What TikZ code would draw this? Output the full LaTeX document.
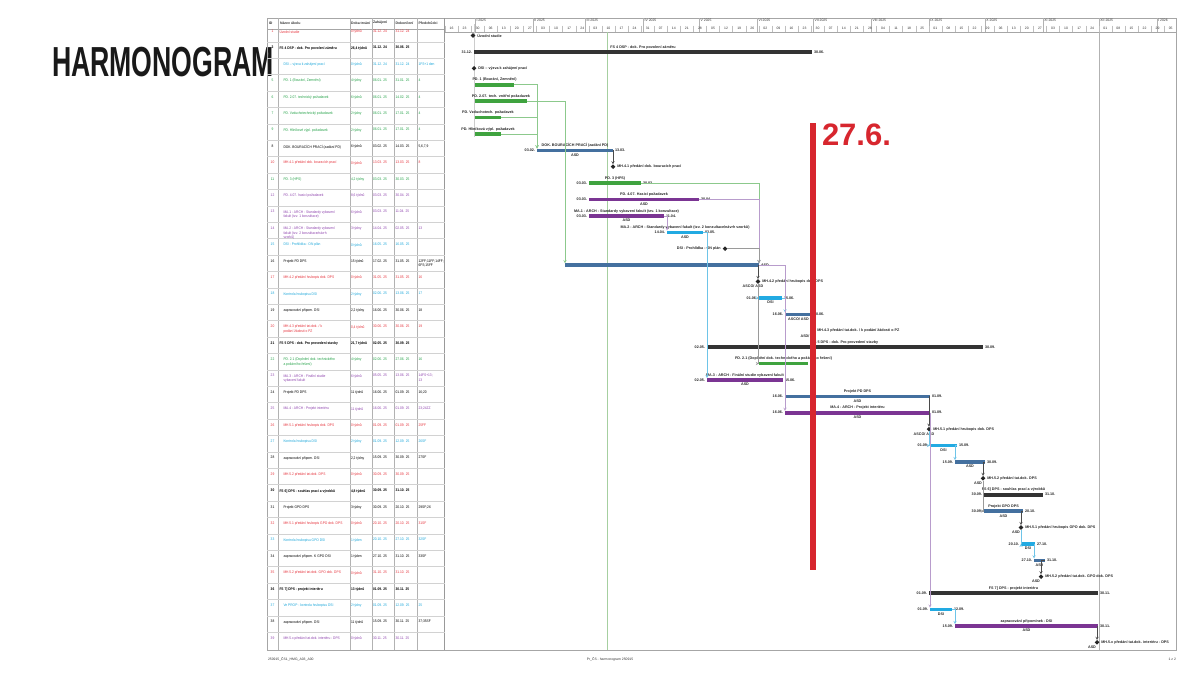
\documentclass[tikz,border=0pt]{standalone}
\usepackage{fontspec}
\setmainfont{Liberation Sans}
\usetikzlibrary{arrows}
\usetikzlibrary{shapes.geometric}
\usetikzlibrary{positioning}

\begin{document}
\begin{tikzpicture}[x=1pt,y=-1pt,
    every node/.style={inner sep=0pt, outer sep=0pt},
    zelle/.style={anchor=north west, align=left, text=#1, xscale=0.88, font=\fontsize{3.7}{4.5}\selectfont},
    kopf/.style={font=\fontsize{3.4}{4}\selectfont, text=black!80},
    balken/.style={rectangle, fill=#1, minimum height=3.6pt, anchor=west},
    meilenstein/.style={diamond, fill=black!85, minimum size=4.6pt},
    klein/.style={font=\fontsize{3.7}{4.2}\selectfont\bfseries, text=black!85},
    verb/.style={line width=0.45pt, -stealth}]
    \definecolor{trot}{HTML}{E5323B}
    \definecolor{tcyan}{HTML}{1BA6D9}
    \definecolor{tgruen}{HTML}{22A046}
    \definecolor{tviolett}{HTML}{8E44AD}
    \definecolor{gruen}{HTML}{3FA33F}
    \definecolor{violett}{HTML}{7B3593}
    \definecolor{blau}{HTML}{22AAE2}
    \definecolor{stahl}{HTML}{44709F}
    \definecolor{sum}{HTML}{333333}
    \definecolor{lgruen}{HTML}{8CC98C}
    \definecolor{lviolett}{HTML}{B89CCC}
    \definecolor{lblau}{HTML}{6EC4E8}
    \definecolor{lgrau}{HTML}{9A9A9A}
    \definecolor{dunkel}{HTML}{4A4A4A}
    \definecolor{stand}{HTML}{A6CFA0}
    \definecolor{rotlinie}{HTML}{D7262E}
    \useasboundingbox (0,0) rectangle (1200,675);
    \node[font=\fontsize{42}{42}\selectfont\bfseries, text=black!90, xscale=0.635, anchor=west] (titel) at (52,62) {HARMONOGRAM};
    \draw[gray!70] (267,18) rectangle (1176,650);  %Rahmen
    \draw[gray!70] (267,29) -- (444.5,29);  %Tabellenkopf
    \draw[gray!70] (444.5,32) -- (1176,32);  %Zeitachse
    \draw[gray!80] (444.5,18) -- (444.5,650);  %Trennlinie
    \draw[gray!60] (1099,32) -- (1099,650);  %Seitengrenze
    \draw[stand, line width=0.6pt] (607,32) -- (607,650);  %Statusdatum
    \draw[gray!40, line width=1.8pt] (474.5,24) -- (474.5,137);  %Projektbeginn
    \foreach \x in {278,350,372,394.5,417.5}  %Spalten
      \draw[gray!60] (\x,18) -- (\x,650);
    \foreach \j in {0,...,36}  %Zeilen
      \draw[gray!35] (267,{41.7+16.4*\j}) -- (444.5,{41.7+16.4*\j});
    \foreach \x/\kopftext [count=\i] in {269/ID, 280/Název úkolu, 351/Doba trvání, 373/Zahájení, 395.5/Dokončení, 418.5/Předchůdci}
      \node[kopf, anchor=west, font=\fontsize{3.5}{4}\selectfont\bfseries] (kopf\i) at (\x,23) {\kopftext};  %Spaltenkoepfe
    \foreach \tg/\monat [count=\i] in {0/I 2025, 31/II 2025, 59/III 2025, 90/IV 2025, 120/V 2025, 151/VI 2025, 181/VII 2025, 212/VIII 2025, 243/IX 2025, 273/X 2025, 304/XI 2025, 334/XII 2025, 365/I 2026}
    {
      \draw[gray!60] ({475+1.868*\tg},18) -- ({475+1.868*\tg},32);  %Monatsgrenze
      \node[kopf, anchor=north west] (monat\i) at ({476.5+1.868*\tg},19.5) {\monat};
    }
    \foreach \wtag [count=\i from 0] in {16,23,30,06,13,20,27,03,10,17,24,03,10,17,24,31,07,14,21,28,05,12,19,26,02,09,16,23,30,07,14,21,28,04,11,18,25,01,08,15,22,29,06,13,20,27,03,10,17,24,01,08,15,22,29,05}
    {
      \draw[gray!50] ({445+13.076*\i},25.5) -- ({445+13.076*\i},32);  %Wochen
      \node[kopf] (woche\i) at ({451.5+13.076*\i},28.8) {\wtag};
    }
    \foreach \nr/\nm/\dauer/\anf/\ende/\vorg/\fb/\fw/\ein [count=\k] in
    {
      1/Úvodní studie/0 týdnů/31.12. 24/31.12. 24//trot/\mdseries/0,
      2/FS 4 DSP - dok. Pro povolení záměru/{26,4 týdnů}/31.12. 24/30.06. 25//black/\bfseries/0,
      {}/DSI -- výzva k zahájení prací/0 týdnů/31.12. 24/31.12. 24/1FS+1 den/tcyan/\mdseries/4,
      5/{PD. 1 (Bourání, Zemnění)}/4 týdny/06.01. 25/31.01. 25/4/tgruen/\mdseries/4,
      6/PD. 2.07. technický požadavek/6 týdnů/06.01. 25/14.02. 25/4/tgruen/\mdseries/4,
      7/PD. Vzduchotechnický požadavek/2 týdny/06.01. 25/17.01. 25/4/tgruen/\mdseries/4,
      9/PD. Hliníkové výpl. požadavek/2 týdny/06.01. 25/17.01. 25/4/tgruen/\mdseries/4,
      8/DOK. BOURACÍCH PRACÍ (zadání PD)/6 týdnů/03.02. 25/14.03. 25/{5,6,7,9}/black/\mdseries/4,
      10/MH.4.1 předání dok. bouracích prací/0 týdnů/13.03. 25/13.03. 25/8/trot/\mdseries/4,
      11/PD. 3 (HPS)/{4,2 týdny}/03.03. 25/30.03. 25//tgruen/\mdseries/4,
      12/PD. 4.07. hasicí požadavek/{8,6 týdnů}/03.03. 25/30.04. 25//tviolett/\mdseries/4,
      13/{MA.1 - ARCH - Standardy vybavení\\fakult (tzv. 1 konzultace)}/6 týdnů/03.03. 25/11.04. 25//tviolett/\mdseries/4,
      14/{MA.2 - ARCH - Standardy vybavení\\fakult (tzv. 2 konzultace/návrh\\vzorků)}/3 týdny/14.04. 25/02.05. 25/13/tviolett/\mdseries/4,
      15/DSI - Prohlídka - ON plán/0 týdnů/16.05. 25/16.05. 25//tcyan/\mdseries/4,
      16/Projekt PD DPS/15 týdnů/17.02. 25/31.05. 25/{12FF;11FF;14FF;\\6FS;15FF}/black/\mdseries/4,
      17/MH.4.2 předání hrubopis dok. DPS/0 týdnů/31.05. 25/31.05. 25/16/trot/\mdseries/4,
      18/Kontrola hrubopisu DSI/2 týdny/02.06. 25/13.06. 25/17/tcyan/\mdseries/4,
      19/zapracování připom. DSI/{2,2 týdny}/16.06. 25/30.06. 25/18/black/\mdseries/4,
      20/{MH.4.3 předání tat.dok. / k\\podání žádosti o PZ}/{0,4 týdnů}/30.06. 25/30.06. 25/19/trot/\mdseries/4,
      21/FS 5 DPS - dok. Pro provedení stavby/{21,7 týdnů}/02.05. 25/30.09. 25//black/\bfseries/0,
      22/{PD. 2.1 (Doplnění dok. technického\\a požárního řešení)}/4 týdny/02.06. 25/27.06. 25/16/tgruen/\mdseries/4,
      23/{MA.3 - ARCH - Finální studie\\vybavení fakult}/6 týdnů/05.05. 25/13.06. 25/{14FS+13;\\13}/tviolett/\mdseries/4,
      24/Projekt PD DPS/11 týdnů/16.06. 25/01.09. 25/{16;20}/black/\mdseries/4,
      25/MA.4 - ARCH - Projekt interiéru/11 týdnů/16.06. 25/01.09. 25/{23;24ZZ}/tviolett/\mdseries/4,
      26/MH.5.1 předání hrubopis dok. DPS/0 týdnů/01.09. 25/01.09. 25/25FF/trot/\mdseries/4,
      27/Kontrola hrubopisu DSI/2 týdny/01.09. 25/12.09. 25/26SF/tcyan/\mdseries/4,
      28/zapracování připom. DSI/{2,2 týdny}/15.09. 25/30.09. 25/27SF/black/\mdseries/4,
      29/MH.5.2 předání tat.dok. DPS/0 týdnů/30.09. 25/30.09. 25//trot/\mdseries/4,
      30/FS 6] DPS - souhlas prací a výrobků/{4,8 týdnů}/30.09. 25/31.10. 25//black/\bfseries/0,
      31/Projekt GPO DPS/3 týdny/30.09. 25/20.10. 25/{29SF;26}/black/\mdseries/4,
      32/MH.5.1 předání hrubopis GPO dok. DPS/0 týdnů/20.10. 25/20.10. 25/31SF/trot/\mdseries/4,
      33/Kontrola hrubopisu GPO DSI/1 týden/20.10. 25/27.10. 25/32SF/tcyan/\mdseries/4,
      34/zapracování připom. K GPO DSI/1 týden/27.10. 25/31.10. 25/33SF/black/\mdseries/4,
      35/MH.5.2 předání tat.dok. GPO dok. DPS/0 týdnů/31.10. 25/31.10. 25//trot/\mdseries/4,
      36/FS 7] DPS - projekt interiéru/13 týdnů/01.09. 25/30.11. 25//black/\bfseries/0,
      37/Ve PROP - kontrola hrubopisu DSI/2 týdny/01.09. 25/12.09. 25/25/tcyan/\mdseries/4,
      38/zapracování připom. DSI/11 týdnů/15.09. 25/30.11. 25/{37;35SF}/black/\mdseries/4,
      39/MH.5.x předání tat.dok. interiéru - DPS/0 týdnů/30.11. 25/30.11. 25//tviolett/\mdseries/4
    }
    {
      \node[zelle=\fb, anchor=north] (nr\k) at (272.5,{30+16.4*(\k-1)}) {\fw\nr};  %Nummer
      \node[zelle=\fb] (nm\k) at ({279.5+\ein},{30+16.4*(\k-1)}) {\fw\nm};  %Name
      \node[zelle=\fb] (du\k) at (351,{30+16.4*(\k-1)}) {\fw\dauer};
      \node[zelle=\fb] (an\k) at (373,{30+16.4*(\k-1)}) {\fw\anf};
      \node[zelle=\fb] (en\k) at (395.5,{30+16.4*(\k-1)}) {\fw\ende};
      \node[zelle=\fb] (vo\k) at (418.5,{30+16.4*(\k-1)}) {\fw\vorg};
    };
    \foreach \n/\xa/\xb/\k/\f/\lt/\rt/\nm/\rs in
    {
      2/474/812/2/sum/31.12./30.06./FS 4 DSP - dok. Pro povolení záměru/,
      5/475/514/4/gruen///{PD. 1 (Bourání, Zemnění)}/,
      6/475/527/5/gruen///PD. 2.07. tech. vnitřní požadavek/,
      7/475/501/6/gruen///PD. Vzduchotech. požadavek/,
      9/475/501/7/gruen///PD. Hliníková výpl. požadavek/,
      8/537/613/8/stahl/03.02./13.03./DOK. BOURACÍCH PRACÍ (zadání PD)/ASD,
      11/589/641/10/gruen/03.03./30.03./PD. 3 (HPS)/,
      12/589/699/11/violett/03.03./30.04./PD. 4.07. Hasicí požadavek/ASD,
      13/589/664/12/violett/03.03./11.04./MA.1 - ARCH - Standardy vybavení fakult (tzv. 1 konzultace)/ASD,
      14/667/703/13/blau/14.04./02.05./{MA.2 - ARCH - Standardy vybavení fakult (tzv. 2 konzultace/návrh vzorků)}/ASD,
      16/565/759/15/stahl//ASD//,
      18/759/782/17/blau/01.06./15.06.//DSI,
      19/785/812/18/stahl/16.06./30.06.//{ASCO/ ASD},
      21/707/983/20/sum/02.05./30.09./FS 5 DPS - dok. Pro provedení stavby/,
      22/759/808/21/gruen///{PD. 2.1 (Doplnění dok. technického a požárního řešení)}/,
      23/707/783/22/violett/02.05./15.06./MA.3 - ARCH - Finální studie vybavení fakult/ASD,
      24/785/930/23/stahl/16.06./01.09./Projekt PD DPS/ASD,
      25/785/930/24/violett/16.06./01.09./MA.4 - ARCH - Projekt interiéru/ASD,
      27/930/957/26/blau/01.09./15.09.//DSI,
      28/955/985/27/stahl/15.09./30.09.//ASD,
      30/984/1043/29/sum/30.09./31.10./FS 6] DPS - souhlas prací a výrobků/,
      31/984/1023/30/stahl/30.09./20.10./Projekt GPO DPS/ASD,
      33/1021/1035/32/blau/20.10./27.10.//DSI,
      34/1034/1045/33/stahl/27.10./31.10.//ASD,
      36/929/1098/35/sum/01.09./30.11./FS 7] DPS - projekt interiéru/,
      37/930/952/36/blau/01.09./12.09.//DSI,
      38/955/1098/37/violett/15.09./30.11./zapracování připomínek - DSI/ASD
    }
    {
      \node[balken=\f, minimum width={(\xb-\xa)*1pt}] (b\n) at (\xa,{35.5+16.4*(\k-1)}) {};  %Balken
      \node[klein, left=2pt of b\n] (bl\n) {\lt};  %Anfang
      \node[klein, right=2pt of b\n] (br\n) {\rt};  %Ende
      \node[klein, above=1.2pt of b\n] (bt\n) {\nm};  %Vorgang
      \node[klein, below=1.6pt of b\n] (bu\n) {\rs};  %Ressource
    };
    \foreach \n/\xm/\k/\nm/\rs in
    {
      1/473/1/Úvodní studie/,
      3/474/3/DSI -- výzva k zahájení prací/,
      10/613/9/MH.4.1 předání dok. bouracích prací/,
      17/758/16/MH.4.2 předání hrubopis dok. DPS/{ASCO/ ASD},
      20/813/19/{MH.4.3 předání tat.dok. / k podání žádosti o PZ}/{ASD/ SP},
      26/929/25/MH.5.1 předání hrubopis dok. DPS/{ASCO/ ASD},
      29/983/28/MH.5.2 předání tat.dok. DPS/ASD,
      32/1021/31/MH.5.1 předání hrubopis GPO dok. DPS/ASD,
      35/1041/34/MH.5.2 předání tat.dok. GPO dok. DPS/ASD,
      39/1097/38/MH.5.x předání tat.dok. interiéru - DPS/ASD
    }
    {
      \node[meilenstein] (m\n) at (\xm,{35.5+16.4*(\k-1)}) {};  %Meilenstein
      \node[klein, right=2pt of m\n] (mt\n) {\nm};
      \node[klein, below=1.4pt of m\n, xshift=-5pt] (mr\n) {\rs};
    };
    \node[meilenstein] (m15) at (725,{35.5+16.4*13}) {};
    \node[klein, left=2pt of m15] (mt15) {DSI - Prohlídka - ON plán};
    \draw[verb, lgruen] (b5.east) -| (b8.north west);  %Verknuepfungen
    \draw[verb, lgruen] (b7.east) -| (b8.north west);
    \draw[verb, lgruen] (b9.east) -| (b8.north west);
    \draw[verb, lgruen] (b6.east) -| (b16.north west);
    \draw[verb, lgruen] (b11.east) -| (b16.north east);
    \draw[verb, lviolett] (b12.east) -| (b16.north east);
    \draw[verb, lviolett] (b13.east) -| (b14.north west);
    \draw[verb, lblau] (b14.east) -| (b23.north west);
    \draw[verb, dunkel] (b8.east) -| (m10.north);
    \draw[verb, lgrau] (m15.east) -| (b16.north east);
    \draw[verb, dunkel] (b16.east) -| (m17.north);
    \draw[verb, lblau] (m17.south) |- (b18.west);
    \draw[verb, lgrau] (m17.south) |- (b22.west);
    \draw[verb, lblau] (b18.east) -| (b19.north west);
    \draw[verb, dunkel] (b19.east) -| (m20.north);
    \draw[verb, lviolett] (b16.east) -| (b25.north west);
    \draw[verb, dunkel] (b24.east) -| (m26.north);
    \draw[verb, lblau] (m26.south) |- (b27.west);
    \draw[verb, lviolett] (b25.east) -| (b37.north west);
    \draw[verb, lblau] (b27.east) -| (b28.north west);
    \draw[verb, dunkel] (b28.east) -| (m29.north);
    \draw[verb, lgrau] (m29.south) |- (b31.west);
    \draw[verb, dunkel] (b31.east) -| (m32.north);
    \draw[verb, lblau] (m32.south) |- (b33.west);
    \draw[verb, lblau] (b33.east) -| (b34.north west);
    \draw[verb, dunkel] (b34.east) -| (m35.north);
    \draw[verb, lblau] (b37.east) -| (b38.north west);
    \draw[verb, dunkel] (b38.east) -| (m39.north);
    \draw[rotlinie, line width=6pt] (813,123) -- (813,570);  %Stichtag
    \node[font=\fontsize{31}{31}\selectfont\bfseries, text=rotlinie, anchor=north west] (datum) at (822,124) {27.6.};
    \node[kopf, anchor=west] (fuss1) at (268,659) {250915\_ČS1\_HMG\_A03\_A00};  %Fusszeile
    \node[kopf] (fuss2) at (610,659) {Pr\_ČS - harmonogram 250915};
    \node[kopf, anchor=east] (fuss3) at (1176,659) {1 z 2};
\end{tikzpicture}
\end{document}
